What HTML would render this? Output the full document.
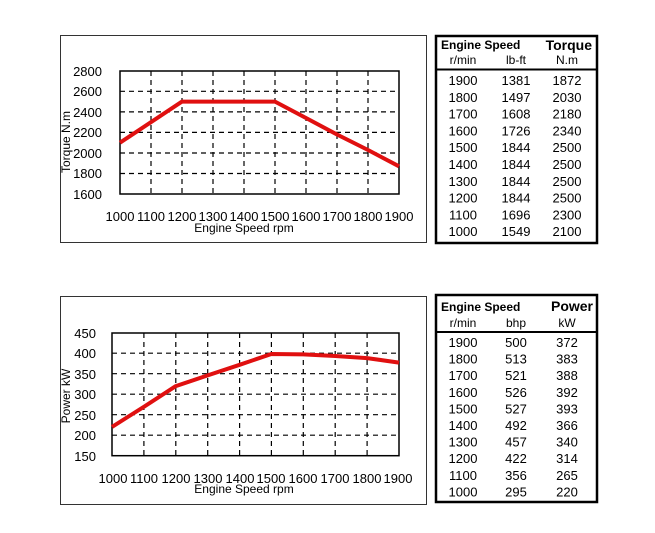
<!DOCTYPE html>
<html><head><meta charset="utf-8"><style>
html,body{margin:0;padding:0;background:#fff;}
svg{display:block;font-family:"Liberation Sans",Arial,sans-serif;}
</style></head><body>
<svg width="655" height="533" viewBox="0 0 655 533" xmlns="http://www.w3.org/2000/svg">
<!-- TOP CHART -->
<rect x="60.5" y="35.5" width="366" height="207" fill="#fff" stroke="#333" stroke-width="1"/>
<g stroke="#000" stroke-width="1.2" stroke-dasharray="5,4" fill="none">
<line x1="120" y1="91.3" x2="399" y2="91.3"/><line x1="120" y1="111.9" x2="399" y2="111.9"/>
<line x1="120" y1="132.4" x2="399" y2="132.4"/><line x1="120" y1="153" x2="399" y2="153"/>
<line x1="120" y1="173.5" x2="399" y2="173.5"/>
<line x1="151" y1="71" x2="151" y2="194"/><line x1="182" y1="71" x2="182" y2="194"/>
<line x1="213" y1="71" x2="213" y2="194"/><line x1="244" y1="71" x2="244" y2="194"/>
<line x1="275" y1="71" x2="275" y2="194"/><line x1="306" y1="71" x2="306" y2="194"/>
<line x1="337" y1="71" x2="337" y2="194"/><line x1="368" y1="71" x2="368" y2="194"/>
</g>
<rect x="120" y="71" width="279" height="123" fill="none" stroke="#000" stroke-width="1.5"/>
<polyline points="120,142.7 182,101.6 275,101.6 306,118 337,134.5 368,150 399,166.3" fill="none" stroke="#e01010" stroke-width="4" stroke-linejoin="round"/>
<g font-size="13" text-anchor="end" fill="#000">
<text x="102" y="76">2800</text><text x="102" y="96">2600</text><text x="102" y="117">2400</text>
<text x="102" y="137">2200</text><text x="102" y="158">2000</text><text x="102" y="178">1800</text>
<text x="102" y="199">1600</text>
</g>
<text transform="translate(70,142) rotate(-90)" font-size="12" text-anchor="middle">Torque N.m</text>
<g font-size="13" text-anchor="middle">
<text x="120" y="221">1000</text><text x="151" y="221">1100</text><text x="182" y="221">1200</text>
<text x="213" y="221">1300</text><text x="244" y="221">1400</text><text x="275" y="221">1500</text>
<text x="306" y="221">1600</text><text x="337" y="221">1700</text><text x="368" y="221">1800</text>
<text x="399" y="221">1900</text>
</g>
<text x="244" y="232" font-size="12" text-anchor="middle">Engine Speed rpm</text>

<!-- TOP TABLE -->
<rect x="436" y="36" width="161" height="207" fill="#fff" stroke="#000" stroke-width="2.5"/>
<line x1="436" y1="69.5" x2="597" y2="69.5" stroke="#000" stroke-width="2"/>
<text x="441" y="49" font-size="12" font-weight="bold">Engine Speed</text>
<text x="592" y="50" font-size="14" font-weight="bold" text-anchor="end">Torque</text>
<g font-size="12" text-anchor="middle">
<text x="463" y="64">r/min</text><text x="516" y="64">lb-ft</text><text x="567" y="64">N.m</text>
</g>
<g font-size="13" text-anchor="middle">
<g transform="translate(0,85)"><text x="463">1900</text><text x="516">1381</text><text x="567">1872</text></g>
<g transform="translate(0,101.8)"><text x="463">1800</text><text x="516">1497</text><text x="567">2030</text></g>
<g transform="translate(0,118.6)"><text x="463">1700</text><text x="516">1608</text><text x="567">2180</text></g>
<g transform="translate(0,135.4)"><text x="463">1600</text><text x="516">1726</text><text x="567">2340</text></g>
<g transform="translate(0,152.2)"><text x="463">1500</text><text x="516">1844</text><text x="567">2500</text></g>
<g transform="translate(0,169)"><text x="463">1400</text><text x="516">1844</text><text x="567">2500</text></g>
<g transform="translate(0,185.8)"><text x="463">1300</text><text x="516">1844</text><text x="567">2500</text></g>
<g transform="translate(0,202.6)"><text x="463">1200</text><text x="516">1844</text><text x="567">2500</text></g>
<g transform="translate(0,219.4)"><text x="463">1100</text><text x="516">1696</text><text x="567">2300</text></g>
<g transform="translate(0,236.2)"><text x="463">1000</text><text x="516">1549</text><text x="567">2100</text></g>
</g>

<!-- BOTTOM CHART -->
<rect x="60.5" y="296.5" width="366" height="208" fill="#fff" stroke="#333" stroke-width="1"/>
<g stroke="#000" stroke-width="1.2" stroke-dasharray="5,4" fill="none">
<line x1="112" y1="353.2" x2="399" y2="353.2"/><line x1="112" y1="373.7" x2="399" y2="373.7"/>
<line x1="112" y1="394.2" x2="399" y2="394.2"/><line x1="112" y1="414.7" x2="399" y2="414.7"/>
<line x1="112" y1="435.2" x2="399" y2="435.2"/>
<line x1="143.9" y1="333" x2="143.9" y2="455.7"/><line x1="175.8" y1="333" x2="175.8" y2="455.7"/>
<line x1="207.7" y1="333" x2="207.7" y2="455.7"/><line x1="239.6" y1="333" x2="239.6" y2="455.7"/>
<line x1="271.4" y1="333" x2="271.4" y2="455.7"/><line x1="303.3" y1="333" x2="303.3" y2="455.7"/>
<line x1="335.2" y1="333" x2="335.2" y2="455.7"/><line x1="367.1" y1="333" x2="367.1" y2="455.7"/>
</g>
<rect x="112" y="333" width="287" height="122.7" fill="none" stroke="#000" stroke-width="1.5"/>
<polyline points="112,426.9 143.9,406.8 175.8,386.1 207.7,375.4 239.6,364.8 271.4,354 303.3,354.4 335.2,356 367.1,358.1 399,362.6" fill="none" stroke="#e01010" stroke-width="4" stroke-linejoin="round"/>
<g font-size="13" text-anchor="end">
<text x="96" y="338">450</text><text x="96" y="358">400</text><text x="96" y="379">350</text>
<text x="96" y="399">300</text><text x="96" y="420">250</text><text x="96" y="440">200</text>
<text x="96" y="461">150</text>
</g>
<text transform="translate(70,396) rotate(-90)" font-size="12" text-anchor="middle">Power kW</text>
<g font-size="13" text-anchor="middle">
<text x="113" y="483">1000</text><text x="144" y="483">1100</text><text x="176" y="483">1200</text>
<text x="208" y="483">1300</text><text x="240" y="483">1400</text><text x="271" y="483">1500</text>
<text x="303" y="483">1600</text><text x="335" y="483">1700</text><text x="367" y="483">1800</text>
<text x="398" y="483">1900</text>
</g>
<text x="244" y="493" font-size="12" text-anchor="middle">Engine Speed rpm</text>

<!-- BOTTOM TABLE -->
<rect x="436" y="295" width="161" height="207" fill="#fff" stroke="#000" stroke-width="2.5"/>
<line x1="436" y1="332" x2="597" y2="332" stroke="#000" stroke-width="2"/>
<text x="441" y="311" font-size="12" font-weight="bold">Engine Speed</text>
<text x="593" y="311" font-size="14" font-weight="bold" text-anchor="end">Power</text>
<g font-size="12" text-anchor="middle">
<text x="463" y="327">r/min</text><text x="516" y="327">bhp</text><text x="567" y="327">kW</text>
</g>
<g font-size="13" text-anchor="middle">
<g transform="translate(0,347)"><text x="463">1900</text><text x="516">500</text><text x="567">372</text></g>
<g transform="translate(0,363.6)"><text x="463">1800</text><text x="516">513</text><text x="567">383</text></g>
<g transform="translate(0,380.2)"><text x="463">1700</text><text x="516">521</text><text x="567">388</text></g>
<g transform="translate(0,396.8)"><text x="463">1600</text><text x="516">526</text><text x="567">392</text></g>
<g transform="translate(0,413.4)"><text x="463">1500</text><text x="516">527</text><text x="567">393</text></g>
<g transform="translate(0,430)"><text x="463">1400</text><text x="516">492</text><text x="567">366</text></g>
<g transform="translate(0,446.6)"><text x="463">1300</text><text x="516">457</text><text x="567">340</text></g>
<g transform="translate(0,463.2)"><text x="463">1200</text><text x="516">422</text><text x="567">314</text></g>
<g transform="translate(0,479.8)"><text x="463">1100</text><text x="516">356</text><text x="567">265</text></g>
<g transform="translate(0,496.4)"><text x="463">1000</text><text x="516">295</text><text x="567">220</text></g>
</g>
</svg>
</body></html>
